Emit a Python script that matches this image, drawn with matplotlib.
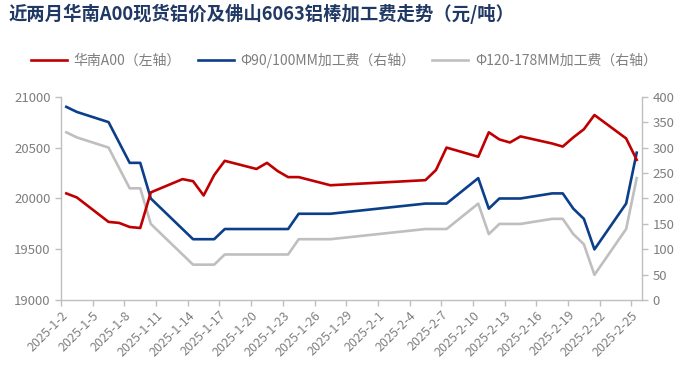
import matplotlib
matplotlib.use("Agg")
import matplotlib.pyplot as plt
import matplotlib.dates as mdates
import pandas as pd
import numpy as np

plt.rcParams["font.family"] = ["Noto Sans CJK SC", "DejaVu Sans"]

# trading days shown on the chart
DATES = [
    "2025-01-02", "2025-01-03", "2025-01-06", "2025-01-07", "2025-01-08",
    "2025-01-09", "2025-01-10", "2025-01-13", "2025-01-14", "2025-01-15",
    "2025-01-16", "2025-01-17", "2025-01-20", "2025-01-21", "2025-01-22",
    "2025-01-23", "2025-01-24", "2025-01-27", "2025-02-05", "2025-02-06",
    "2025-02-07", "2025-02-10", "2025-02-11", "2025-02-12", "2025-02-13",
    "2025-02-14", "2025-02-17", "2025-02-18", "2025-02-19", "2025-02-20",
    "2025-02-21", "2025-02-24", "2025-02-25",
]

# 华南A00 spot price (left axis)
A00_SOUTH = [
    20050, 20010, 19770, 19760, 19720, 19710, 20060, 20190, 20170, 20030,
    20230, 20370, 20290, 20350, 20270, 20210, 20210, 20130, 20180, 20280,
    20500, 20410, 20650, 20580, 20550, 20610, 20540, 20510, 20600, 20680,
    20820, 20590, 20380,
]

# processing fees (right axis)
FEE_90_100 = [
    380, 370, 350, 310, 270, 270, 200, 140, 120, 120,
    120, 140, 140, 140, 140, 140, 170, 170, 190, 190,
    190, 240, 180, 200, 200, 200, 210, 210, 180, 160,
    100, 190, 290,
]
FEE_120_178 = [
    330, 320, 300, 260, 220, 220, 150, 90, 70, 70,
    70, 90, 90, 90, 90, 90, 120, 120, 140, 140,
    140, 190, 130, 150, 150, 150, 160, 160, 130, 110,
    50, 140, 240,
]

TITLE = "近两月华南A00现货铝价及佛山6063铝棒加工费走势（元/吨）"
LABELS = ["华南A00（左轴）", "Φ90/100MM加工费（右轴）", "Φ120-178MM加工费（右轴）"]

RED = "#C00000"
BLUE = "#0B3F8A"
GREY = "#BFBFBF"
TXT = "#7F7F7F"
AXC = "#BFBFBF"

x = mdates.date2num(pd.to_datetime(DATES))
tick_days = pd.date_range("2025-01-02", "2025-02-25", freq="3D")
tick_x = mdates.date2num(tick_days) - 0.5
tick_lbl = [f"{d.year}-{d.month}-{d.day}" for d in tick_days]

fig = plt.figure(figsize=(6.88, 3.82), dpi=100)
ax = fig.add_axes([0.0887, 0.2139, 0.8444, 0.533])
ax2 = ax.twinx()

l1, = ax.plot(x, A00_SOUTH, color=RED, lw=1.9, zorder=3)
l2, = ax2.plot(x, FEE_90_100, color=BLUE, lw=1.9, zorder=3)
l3, = ax2.plot(x, FEE_120_178, color=GREY, lw=1.9, zorder=2)
ax.set_zorder(ax2.get_zorder() + 1)
ax.patch.set_visible(False)

ax.set_xlim(mdates.date2num(pd.Timestamp("2025-01-02")) - 0.5,
            mdates.date2num(pd.Timestamp("2025-02-25")) + 0.5)
ax.set_ylim(19000, 21000)
ax.set_yticks(np.arange(19000, 21001, 500))
ax2.set_ylim(0, 400)
ax2.set_yticks(np.arange(0, 401, 50))
ax.set_xticks(tick_x)
ax.set_xticklabels(tick_lbl, rotation=45, ha="right", rotation_mode="anchor")

for a in (ax, ax2):
    for s in a.spines.values():
        s.set_color(AXC)
        s.set_linewidth(1.0)
    a.spines["top"].set_visible(False)
    a.tick_params(colors=AXC, labelcolor=TXT, labelsize=9.5, length=4, width=1.0)
ax.spines["right"].set_visible(False)
ax2.spines["left"].set_visible(False)
ax2.spines["bottom"].set_visible(False)
ax.tick_params(axis="x", pad=2, labelsize=9)

fig.text(0.012, 1 - 14 / 382, TITLE, fontsize=13.2, fontweight="bold",
         color="#1F3864", ha="left", va="center")

leg = fig.legend([l1, l2, l3], LABELS, loc="center", ncol=3, frameon=False,
                 bbox_to_anchor=(0.5, 1 - 60 / 382), fontsize=10,
                 handlelength=2.6, columnspacing=1.2, handletextpad=0.5)
for t in leg.get_texts():
    t.set_color(TXT)

fig.savefig("out.png", dpi=100)
